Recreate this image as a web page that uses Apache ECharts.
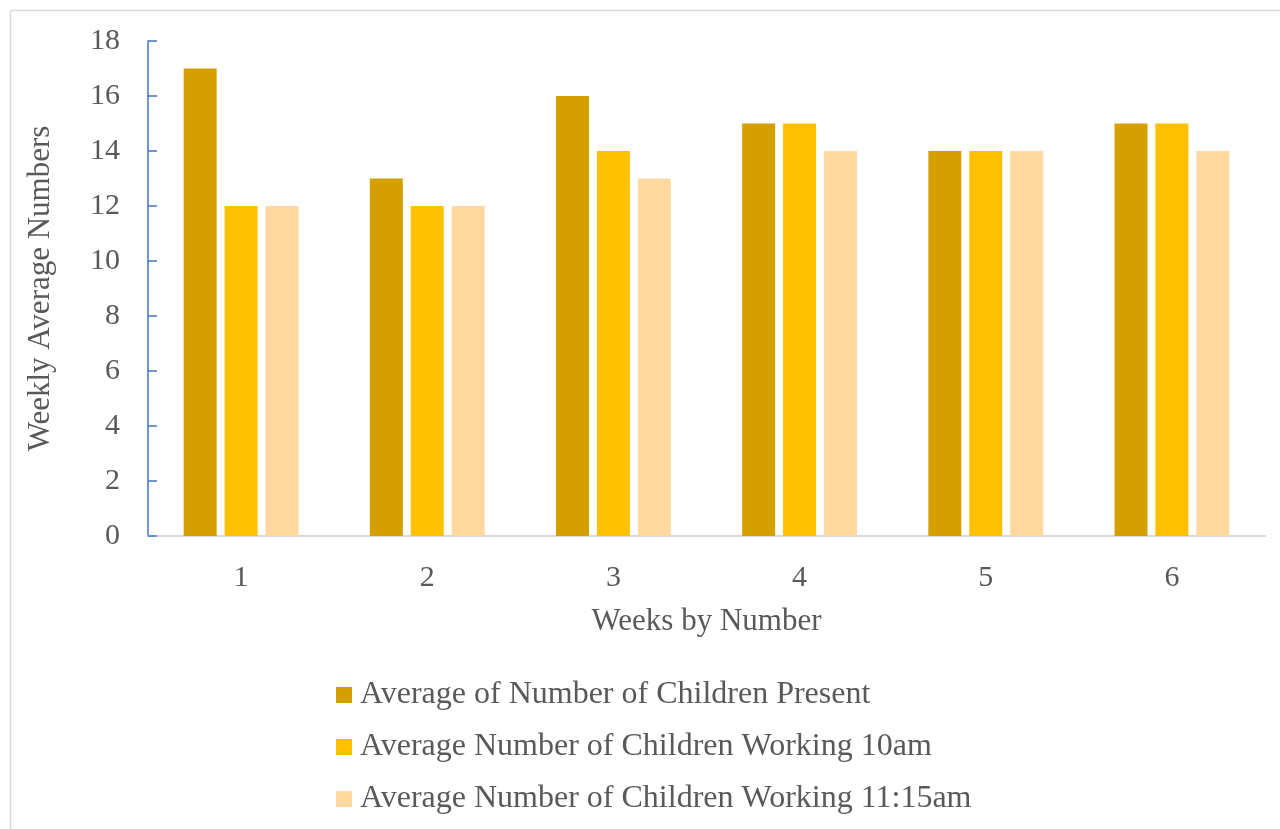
<!DOCTYPE html>
<html>
<head>
<meta charset="utf-8">
<script src="https://cdn.jsdelivr.net/npm/echarts@6/dist/echarts.min.js"></script>
<style>
  html, body { margin: 0; padding: 0; background: #fff; }
  #chart { width: 1280px; height: 829px; }
</style>
</head>
<body>
<div id="chart"></div>
<script>
// weeks on the x axis
const weeks = ["1", "2", "3", "4", "5", "6"];
// series values
const present = [17, 13, 16, 15, 14, 15];
const working10 = [12, 12, 14, 15, 14, 15];
const working1115 = [12, 12, 13, 14, 14, 14];

const seriesNames = [
  "Average of Number of Children Present",
  "Average Number of Children Working 10am",
  "Average Number of Children Working 11:15am"
];
const colors = ["#D4A000", "#FFC000", "#FFD9A0"];

const font = "'Liberation Serif', 'Times New Roman', serif";
const textColor = "#595959";

const chart = echarts.init(document.getElementById("chart"));

chart.setOption({
  animation: false,
  textStyle: { fontFamily: font, color: textColor },
  graphic: [
    {
      type: "rect",
      shape: { x: 10.5, y: 10.5, width: 1300, height: 900 },
      style: { fill: "none", stroke: "#D9D9D9", lineWidth: 1.5 },
      silent: true
    }
  ],
  grid: { left: 148, right: 15, top: 41, bottom: 293 },
  legend: {
    orient: "vertical",
    left: 336,
    top: 679,
    padding: 0,
    itemWidth: 16,
    itemHeight: 16,
    itemGap: 20,
    icon: "rect",
    textStyle: { fontFamily: font, fontSize: 32, color: textColor, lineHeight: 32, padding: [0, 0, 0, 3] },
    data: seriesNames
  },
  xAxis: {
    type: "category",
    data: weeks,
    name: "Weeks by Number",
    nameLocation: "middle",
    nameGap: 70,
    nameTextStyle: { fontFamily: font, fontSize: 31, color: textColor },
    axisLine: { lineStyle: { color: "#D9D9D9", width: 2 } },
    axisTick: { inside: true, length: 9, lineStyle: { color: "#D9D9D9", width: 2 } },
    axisLabel: { fontFamily: font, fontSize: 30, color: textColor, margin: 27 }
  },
  yAxis: {
    type: "value",
    min: 0,
    max: 18,
    interval: 2,
    name: "Weekly Average Numbers",
    nameLocation: "middle",
    nameGap: 92,
    nameTextStyle: { fontFamily: font, fontSize: 31, color: textColor },
    splitLine: { show: false },
    axisLine: { show: true, lineStyle: { color: "#4472C4", width: 1.5 } },
    axisTick: { show: true, inside: true, length: 9, lineStyle: { color: "#4472C4", width: 1.5 } },
    axisLabel: { fontFamily: font, fontSize: 30, color: textColor, margin: 28 }
  },
  series: [
    { name: seriesNames[0], type: "bar", data: present, barWidth: 33, barGap: "24%", itemStyle: { color: colors[0] } },
    { name: seriesNames[1], type: "bar", data: working10, barWidth: 33, barGap: "24%", itemStyle: { color: colors[1] } },
    { name: seriesNames[2], type: "bar", data: working1115, barWidth: 33, barGap: "24%", itemStyle: { color: colors[2] } }
  ]
});
</script>
</body>
</html>
